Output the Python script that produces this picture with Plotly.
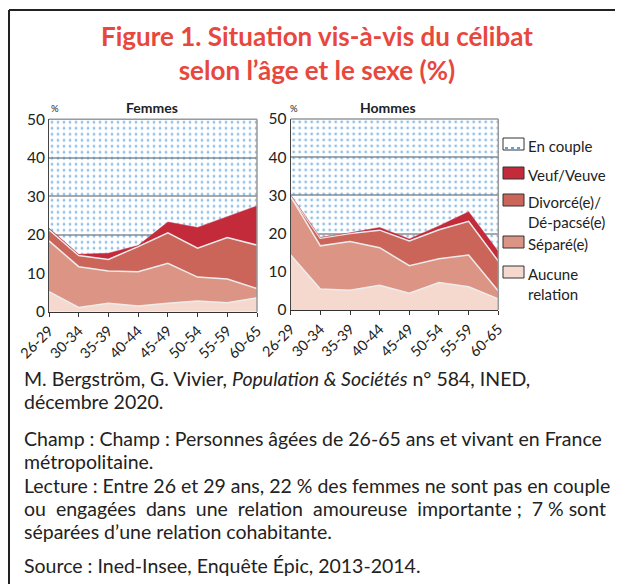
import plotly.graph_objects as go

# page has an 8px body margin: the figure is drawn from screen (8, 8)
OFF = 8
W, H = 623 - OFF, 584 - OFF

ages = ["26-29", "30-34", "35-39", "40-44", "45-49", "50-54", "55-59", "60-65"]

# Femmes (layer values, %)
f_aucune = [5.2, 1.1, 2.2, 1.5, 2.2, 2.8, 2.3, 3.6]
f_separe = [13.2, 10.6, 8.4, 8.9, 10.4, 6.2, 6.2, 2.4]
f_divorce = [2.9, 2.9, 3.0, 6.5, 7.9, 7.5, 10.8, 11.3]
f_veuf = [0.4, 0.3, 1.6, 0.3, 2.8, 5.4, 5.4, 10.2]
f_couple = [78.3, 85.1, 84.8, 82.8, 76.7, 78.1, 75.3, 72.5]

# Hommes (layer values, %)
h_aucune = [14.4, 5.5, 5.2, 6.5, 4.4, 7.2, 6.1, 2.9]
h_separe = [15.3, 11.3, 12.7, 9.8, 7.2, 6.2, 8.3, 2.1]
h_divorce = [0.2, 2.0, 2.1, 4.6, 6.5, 7.6, 8.8, 7.8]
h_veuf = [0.2, 0.2, 0.2, 0.7, 0.5, 1.0, 2.5, 2.5]
h_couple = [69.9, 81.0, 79.8, 78.4, 81.4, 78.0, 74.3, 84.7]

series_names = ["Aucune relation", "Séparé(e)", "Divorcé(e)/Dé-pacsé(e)", "Veuf/Veuve", "En couple"]
colors = ["#f5d9cf", "#dc9485", "#cc6559", "#c32a3a"]
dot_color = "#2a84d2"

legend_labels = ["En couple", "Veuf/Veuve", "Divorcé(e)/<br>Dé-pacsé(e)", "Séparé(e)", "Aucune<br>relation"]

NB = "\u00a0"
title_text = "Figure 1. Situation vis-à-vis du célibat<br>selon l’âge et le sexe (%)"
body_lines = [
    ("M. Bergström, G. Vivier, <i>Population & Sociétés</i> n° 584, INED,", 378),
    ("décembre 2020.", 401),
    ("Champ : Champ : Personnes âgées de 26-65 ans et vivant en France", 438),
    ("métropolitaine.", 461),
    ("Lecture : Entre 26 et 29 ans, 22 % des femmes ne sont pas en couple", 485),
    (f"ou {NB}engagées {NB}dans {NB}une {NB}relation {NB}amoureuse {NB}importante ; {NB}7 % sont", 508),
    ("séparées d’une relation cohabitante.", 531),
    ("Source : Ined-Insee, Enquête Épic, 2013-2014.", 565),
]

FONT = "Lato, 'Open Sans', sans-serif"

def px(x):
    return (x - OFF) / W

def py(y):
    return 1 - (y - OFF) / H

fig = go.Figure()

panels = [
    ("x", "y", [f_aucune, f_separe, f_divorce, f_veuf, f_couple], "f"),
    ("x2", "y2", [h_aucune, h_separe, h_divorce, h_veuf, h_couple], "h"),
]
for xa, ya, layers, grp in panels:
    for i, (name, vals) in enumerate(zip(series_names, layers)):
        if i < 4:
            lw = 1.5 if i < 3 else 0.5
            lc = "#ececec" if i < 3 else colors[i]
            fig.add_trace(go.Scatter(
                x=ages, y=vals, name=name, xaxis=xa, yaxis=ya,
                stackgroup=grp, mode="lines",
                line=dict(color=lc, width=lw),
                fillcolor=colors[i], showlegend=False,
            ))
        else:
            fig.add_trace(go.Scatter(
                x=ages, y=vals, name=name, xaxis=xa, yaxis=ya,
                stackgroup=grp, mode="lines",
                line=dict(color="rgba(0,0,0,0)", width=0),
                fillcolor="rgba(0,0,0,0)",
                fillpattern=dict(shape=".", fgcolor=dot_color, bgcolor="rgba(0,0,0,0)",
                                 size=6, solidity=0.17),
                showlegend=False,
            ))

xcommon = dict(type="category", range=[0, 7], showgrid=False, showline=True, automargin=False,
               linecolor="#333", linewidth=1, ticks="outside", ticklen=4,
               tickcolor="#333", tickangle=-45,
               tickfont=dict(family=FONT, size=14.5, color="#222"))
ycommon = dict(range=[0, 50], dtick=10, showgrid=True, gridcolor="#aaaaaa", gridwidth=1.5,
               showline=True, linecolor="#444", linewidth=1, ticks="", zeroline=False,
               automargin=False,
               tickfont=dict(family=FONT, size=15.5, color="#222"))

fig.update_layout(
    width=W, height=H,
    margin=dict(l=0, r=0, t=0, b=0, pad=0, autoexpand=False),
    paper_bgcolor="white", plot_bgcolor="white",
    showlegend=False,
    xaxis=dict(domain=[px(49), px(257)], anchor="y", **xcommon),
    yaxis=dict(domain=[py(311.7), py(119.3)], anchor="x", **ycommon),
    xaxis2=dict(domain=[px(290.7), px(498.3)], anchor="y2", **xcommon),
    yaxis2=dict(domain=[py(310), py(119)], anchor="x2", **ycommon),
)

shapes = []
annotations = []

# top/right frame of each plot
for xr, yr in [("x domain", "y domain"), ("x2 domain", "y2 domain")]:
    shapes.append(dict(type="line", xref=xr, yref=yr, x0=0, x1=1, y0=1, y1=1,
                       line=dict(color="#999", width=1.5)))
    shapes.append(dict(type="line", xref=xr, yref=yr, x0=1, x1=1, y0=0, y1=1,
                       line=dict(color="#999", width=1.5)))

# outer box (top and left lines)
shapes.append(dict(type="line", xref="paper", yref="paper", x0=px(9), x1=1.0, y0=py(10), y1=py(10),
                   line=dict(color="#222", width=2)))
shapes.append(dict(type="line", xref="paper", yref="paper", x0=px(9), x1=px(9), y0=py(10), y1=0,
                   line=dict(color="#222", width=2)))

# title
annotations.append(dict(text=title_text, xref="paper", yref="paper", x=px(317), y=py(53),
                        xanchor="center", yanchor="middle", showarrow=False, align="center",
                        font=dict(family=FONT, size=26, color="#e8473d", weight="bold"),
                        ))

# panel titles and % labels
annotations.append(dict(text="<b>Femmes</b>", xref="paper", yref="paper", x=px(152), y=py(107),
                        xanchor="center", yanchor="middle", showarrow=False,
                        font=dict(family=FONT, size=14, color="#222")))
annotations.append(dict(text="<b>Hommes</b>", xref="paper", yref="paper", x=px(388), y=py(107),
                        xanchor="center", yanchor="middle", showarrow=False,
                        font=dict(family=FONT, size=14, color="#222")))
for xp in (55, 294):
    annotations.append(dict(text="%", xref="paper", yref="paper", x=px(xp), y=py(108),
                            xanchor="center", yanchor="middle", showarrow=False,
                            font=dict(family=FONT, size=9.5, color="#222")))

# legend
leg_y = [144, 173, 200, 242, 272]
leg_fill = ["white", colors[3], colors[2], colors[1], colors[0]]
for lbl, yc, fc in zip(legend_labels, leg_y, leg_fill):
    shapes.append(dict(type="rect", xref="paper", yref="paper",
                       x0=px(503), x1=px(524), y0=py(yc + 6), y1=py(yc - 6),
                       fillcolor=fc, line=dict(color="#333", width=1)))
    annotations.append(dict(text=lbl, xref="paper", yref="paper", x=px(526), y=py(yc - 9),
                            xanchor="left", yanchor="top", showarrow=False, align="left",
                            font=dict(family=FONT, size=15, color="#222")))
shapes.append(dict(type="line", xref="paper", yref="paper", x0=px(505), x1=px(523),
                   y0=py(148), y1=py(148), line=dict(color=dot_color, width=1.5, dash="dot")))

# body text
for txt, yc in body_lines:
    annotations.append(dict(text=txt, xref="paper", yref="paper", x=px(22), y=py(yc),
                            xanchor="left", yanchor="middle", showarrow=False, align="left",
                            font=dict(family=FONT, size=19.5, color="#222")))

fig.update_layout(shapes=shapes, annotations=annotations)

fig.write_html("out.html")
